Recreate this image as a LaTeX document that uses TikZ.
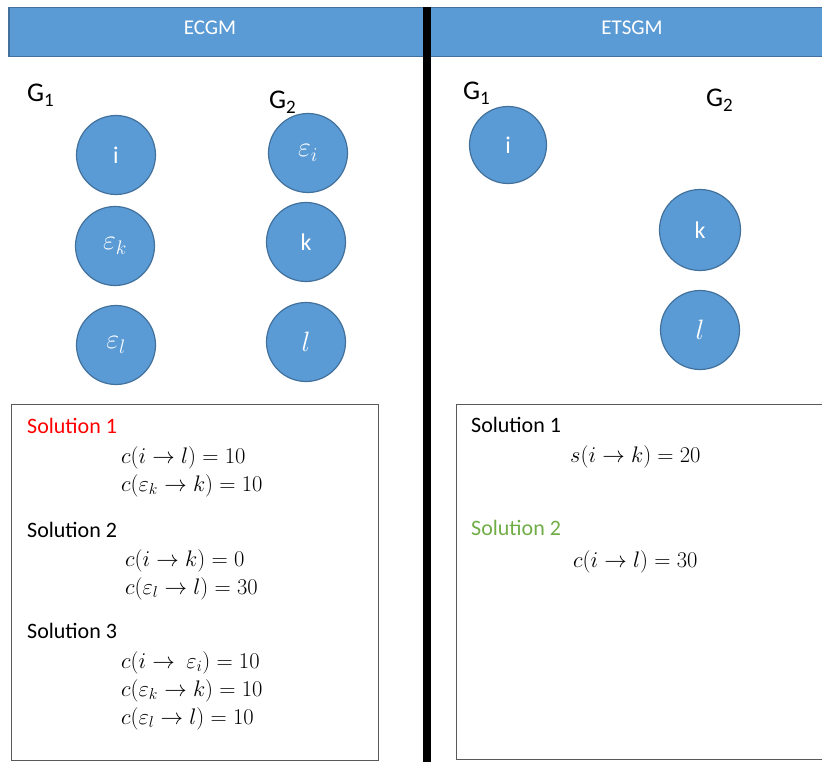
\RequirePackage{fix-cm}
\documentclass[tikz,border=0pt]{standalone}
\usepackage[no-math]{fontspec}
\setmainfont{Carlito}
\definecolor{nodeblue}{HTML}{5B9BD5}
\definecolor{edgeblue}{HTML}{41719C}
\definecolor{solgreen}{HTML}{70AD47}
\definecolor{boxgray}{HTML}{595959}
\newcommand{\gsub}[1]{{\fontsize{19}{19}\selectfont\raisebox{-5pt}{#1}}}
\newcommand{\cm}[1]{{\fontsize{28}{28}\selectfont$#1$}}
\begin{document}
\begin{tikzpicture}[x=1pt,y=-1pt,
  vtx/.style={circle,fill=nodeblue,draw=edgeblue,line width=1.2pt,minimum size=79pt,inner sep=0pt,text=white,font=\fontsize{24}{24}\selectfont},
  hdrtext/.style={anchor=base,text=white,font=\fontsize{21}{21}\selectfont,inner sep=0pt},
  glabel/.style={anchor=base west,inner sep=0pt,font=\fontsize{27}{27}\selectfont},
  soltext/.style={anchor=base west,inner sep=0pt,font=\fontsize{22}{22}\selectfont},
  eqn/.style={anchor=base west,inner sep=0pt,font=\fontsize{22.5}{22.5}\selectfont},
  solbox/.style={draw=boxgray,line width=1.1pt}]
\useasboundingbox (0,0) rectangle (822,762);
% header
\node[draw=edgeblue,fill=nodeblue,line width=1.5pt,minimum width=816pt,minimum height=49pt,inner sep=0pt,anchor=north west] (hdr) at (8,7) {};
\node[hdrtext] (hl) at (210,35) {ECGM};
\node[hdrtext] (hr) at (632,35) {ETSGM};
% divider
\coordinate (dtop) at (427,7);
\coordinate (dbot) at (427,764);
\draw[line width=8pt] (dtop) -- (dbot);
% left graphs
\node[glabel] (lg1) at (27,102) {G\gsub{1}};
\node[glabel] (lg2) at (269,109) {G\gsub{2}};
\node[vtx] (li) at (116,155) {i};
\node[vtx] (lek) at (115,246) {\cm{\varepsilon_k}};
\node[vtx] (lel) at (116,345) {\cm{\varepsilon_l}};
\node[vtx] (lei) at (308,153) {\cm{\varepsilon_i}};
\node[vtx] (lk) at (306,242) {k};
\node[vtx] (ll) at (306,342) {\cm{l}};
% right graphs
\node[glabel] (rg1) at (463,100) {G\gsub{1}};
\node[glabel] (rg2) at (706,107) {G\gsub{2}};
\node[vtx,minimum size=77pt] (ri) at (508,145) {i};
\node[vtx,minimum size=81pt] (rk) at (700,230) {k};
\node[vtx] (rl) at (700,330) {\cm{l}};
% solution boxes
\node[solbox,minimum width=367.5pt,minimum height=356pt,inner sep=0pt,anchor=north west] (lbox) at (10.5,404) {};
\node[solbox,minimum width=366pt,minimum height=355pt,inner sep=0pt,anchor=north west] (rbox) at (455.5,404) {};
% left box text
\node[soltext,text=red] (ls1) at (27,433) {Solution 1};
\node[eqn] (le1) at (121,463) {$c(i\to l)=10$};
\node[eqn] (le2) at (121,491) {$c(\varepsilon_k\to k)=10$};
\node[soltext] (ls2) at (27,537) {Solution 2};
\node[eqn] (le3) at (125,566) {$c(i\to k)=0$};
\node[eqn] (le4) at (125,594) {$c(\varepsilon_l\to l)=30$};
\node[soltext] (ls3) at (27,638) {Solution 3};
\node[eqn] (le5) at (121,668) {$c(i\to\ \varepsilon_i)=10$};
\node[eqn] (le6) at (121,696) {$c(\varepsilon_k\to k)=10$};
\node[eqn] (le7) at (121,724) {$c(\varepsilon_l\to l)=10$};
% right box text
\node[soltext] (rs1) at (471,432) {Solution 1};
\node[eqn] (re1) at (570,462) {$s(i\to k)=20$};
\node[soltext,text=solgreen] (rs2) at (471,535) {Solution 2};
\node[eqn] (re2) at (573,567) {$c(i\to l)=30$};
\end{tikzpicture}
\end{document}
